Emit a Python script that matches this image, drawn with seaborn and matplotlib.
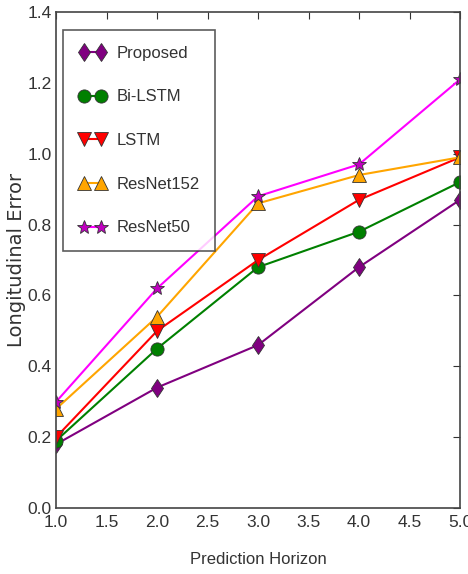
import matplotlib
matplotlib.use("Agg")
import matplotlib.pyplot as plt
import seaborn as sns
import pandas as pd

horizon = [1.0, 2.0, 3.0, 4.0, 5.0]
proposed = [0.18, 0.34, 0.46, 0.68, 0.87]
bi_lstm = [0.19, 0.45, 0.68, 0.78, 0.92]
lstm = [0.20, 0.50, 0.70, 0.87, 0.99]
resnet152 = [0.28, 0.54, 0.86, 0.94, 0.99]
resnet50 = [0.30, 0.62, 0.88, 0.97, 1.21]

models = ["Proposed", "Bi-LSTM", "LSTM", "ResNet152", "ResNet50"]
series = [proposed, bi_lstm, lstm, resnet152, resnet50]
colors = ["#800080", "#008000", "#ff0000", "#ffa500", "#ff00ff"]
faces = ["#800080", "#008000", "#ff0000", "#ffa500", "#c000c0"]
markers = ["d", "o", "v", "^", "*"]

rows = []
for name, vals in zip(models, series):
    for h, v in zip(horizon, vals):
        rows.append({"Prediction Horizon": h, "Longitudinal Error": v, "Model": name})
df = pd.DataFrame(rows)

sns.set_style("white")
plt.rcParams["font.family"] = ["Liberation Sans", "DejaVu Sans"]

fig = plt.figure(figsize=(4.68, 5.74), dpi=100)
ax = fig.add_axes([0.12, 0.115, 0.863, 0.864])

for name, col, fc, mk in zip(models, colors, faces, markers):
    sub = df[df["Model"] == name]
    sns.lineplot(data=sub, x="Prediction Horizon", y="Longitudinal Error", ax=ax,
                 color=col, marker=mk, markersize=9.5 if mk != "*" else 10,
                 markerfacecolor=fc, markeredgecolor="#333333", markeredgewidth=0.6,
                 linewidth=1.5, label=name)

ax.set_xlim(1.0, 5.0)
ax.set_ylim(0.0, 1.4)
ax.set_xticks([1.0, 1.5, 2.0, 2.5, 3.0, 3.5, 4.0, 4.5, 5.0])
ax.set_yticks([0.0, 0.2, 0.4, 0.6, 0.8, 1.0, 1.2, 1.4])
ax.set_xticklabels([f"{t:.1f}" for t in ax.get_xticks()])
ax.set_yticklabels([f"{t:.1f}" for t in ax.get_yticks()])
ax.tick_params(direction="in", length=5, width=0.8, top=True, right=True,
               labelsize=12.5, colors="#333333", pad=3)
ax.tick_params(axis="x", pad=5)
for s in ax.spines.values():
    s.set_color("#444444")
    s.set_linewidth(1.2)
ax.set_xlabel("Prediction Horizon", fontsize=12, color="#333333", labelpad=16)
ax.set_ylabel("Longitudinal Error", fontsize=14, color="#333333",
              family=["DejaVu Sans"], labelpad=1)
ax.grid(False)

leg = ax.legend(loc="upper left", numpoints=2, fontsize=12, frameon=True,
                fancybox=False, edgecolor="#333333", borderpad=0.95,
                labelspacing=1.72, handlelength=1.6, handletextpad=0.65,
                borderaxespad=0.0, bbox_to_anchor=(0.017, 0.964))
leg.get_frame().set_linewidth(1.2)
for t in leg.get_texts():
    t.set_color("#333333")

fig.savefig("out.png", dpi=100)
